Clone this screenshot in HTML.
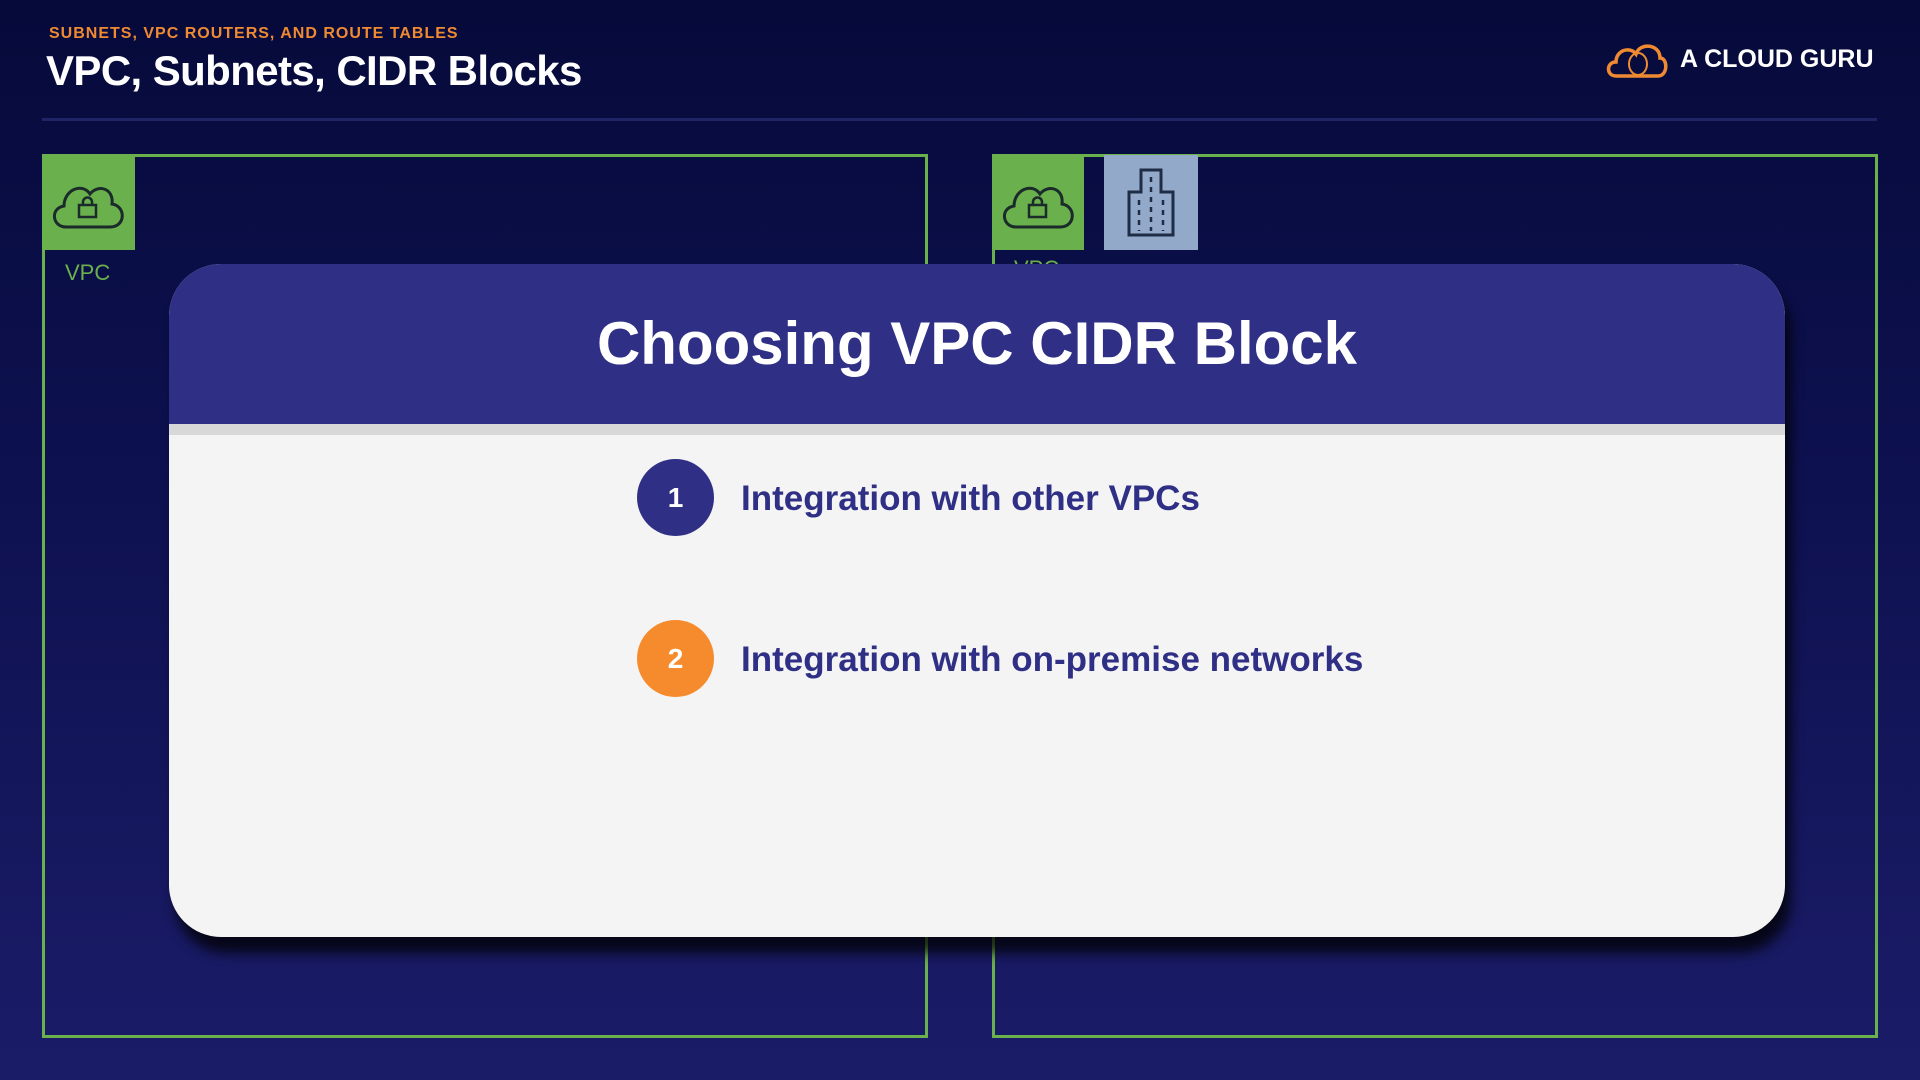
<!DOCTYPE html>
<html><head><meta charset="utf-8"><style>
*{margin:0;padding:0;box-sizing:border-box}
body{width:1920px;height:1080px;overflow:hidden;position:relative;font-family:"Liberation Sans",sans-serif;background:linear-gradient(180deg,#060a3a 0%,#0e1150 45%,#1b1c68 100%)}
.abs{position:absolute}
.sub{left:49px;top:25px;color:#f08a32;font-size:16px;font-weight:bold;letter-spacing:1px}
.title{left:46px;top:47px;color:#fff;font-size:42px;font-weight:bold;letter-spacing:-0.6px}
.rule{left:42px;top:118px;width:1835px;height:3px;background:#1e2466}
.box{border:3px solid #6ab04c}
.green{background:#6ab04c}
.card{left:169px;top:264px;width:1616px;height:673px;border-radius:52px;overflow:hidden;background:#f4f4f4;box-shadow:6px 16px 12px rgba(0,0,0,.75)}
.hdr{left:0;top:0;width:100%;height:160px;background:#2f3085;color:#fff;font-size:60px;font-weight:bold;text-align:center;line-height:160px}
.stripe{left:0;top:160px;width:100%;height:11px;background:#d8d8d8}
.circ{width:77px;height:77px;border-radius:50%;color:#fff;font-weight:bold;font-size:28px;text-align:center;line-height:77px}
.item{color:#2f3085;font-weight:bold;font-size:35px}
</style></head><body>
<div class="abs sub">SUBNETS, VPC ROUTERS, AND ROUTE TABLES</div>
<div class="abs title">VPC, Subnets, CIDR Blocks</div>
<div class="abs rule"></div>
<svg class="abs" style="left:1604px;top:38px" width="66" height="42" viewBox="0 0 66 42"><path d="M12 38 C2 38 2 24 12 24 C12 12 26 8 32 16 C36 4 56 6 56 20 C64 20 64 38 54 38 Z" fill="none" stroke="#f08a32" stroke-width="3.5"/><ellipse cx="34" cy="26" rx="9" ry="11" fill="none" stroke="#f08a32" stroke-width="2"/></svg>
<div class="abs" style="left:1680px;top:45px;color:#fff;font-size:25px;font-weight:bold">A CLOUD GURU</div>

<div class="abs box" style="left:42px;top:154px;width:886px;height:884px"></div>
<div class="abs box" style="left:992px;top:154px;width:886px;height:884px"></div>
<div class="abs green" style="left:42px;top:154px;width:93px;height:96px"></div>
<div class="abs green" style="left:992px;top:154px;width:92px;height:96px"></div>
<div class="abs" style="left:1104px;top:155px;width:94px;height:95px;background:#93a9c9"></div>
<svg class="abs" style="left:42px;top:154px" width="93" height="96"><path d="M24 73 C10 73 8 54 22 52 C22 36 40 28 48 40 C56 30 72 34 70 50 C84 52 84 73 68 73 Z" fill="none" stroke="#1b2a2a" stroke-width="3"/><rect x="37" y="51" width="17" height="12" fill="none" stroke="#1b2a2a" stroke-width="2.5"/><path d="M41 51 v-3 a4.5 4.5 0 0 1 9 0 v3" fill="none" stroke="#1b2a2a" stroke-width="2.5"/></svg>
<svg class="abs" style="left:992px;top:154px" width="93" height="96"><path d="M24 73 C10 73 8 54 22 52 C22 36 40 28 48 40 C56 30 72 34 70 50 C84 52 84 73 68 73 Z" fill="none" stroke="#1b2a2a" stroke-width="3"/><rect x="37" y="51" width="17" height="12" fill="none" stroke="#1b2a2a" stroke-width="2.5"/><path d="M41 51 v-3 a4.5 4.5 0 0 1 9 0 v3" fill="none" stroke="#1b2a2a" stroke-width="2.5"/></svg>
<svg class="abs" style="left:1104px;top:155px" width="94" height="95"><path d="M25 80 V37 H37 V15 H57 V37 H69 V80 Z" fill="none" stroke="#1e2d45" stroke-width="3"/><g stroke="#1e2d45" stroke-width="2.5" stroke-dasharray="5 5"><line x1="47" y1="22" x2="47" y2="76"/><line x1="35" y1="45" x2="35" y2="76"/><line x1="59" y1="45" x2="59" y2="76"/></g></svg>
<div class="abs" style="left:65px;top:260px;color:#6ab04c;font-size:22px">VPC</div>
<div class="abs" style="left:1014px;top:256px;color:#6ab04c;font-size:22px">VPC</div>

<div class="abs card">
<div class="abs hdr">Choosing VPC CIDR Block</div>
<div class="abs stripe"></div>
<div class="abs circ" style="left:468px;top:195px;background:#2f3085">1</div>
<div class="abs item" style="left:572px;top:215px">Integration with other VPCs</div>
<div class="abs circ" style="left:468px;top:356px;background:#f68b2d">2</div>
<div class="abs item" style="left:572px;top:376px">Integration with on-premise networks</div>
</div>
</body></html>
